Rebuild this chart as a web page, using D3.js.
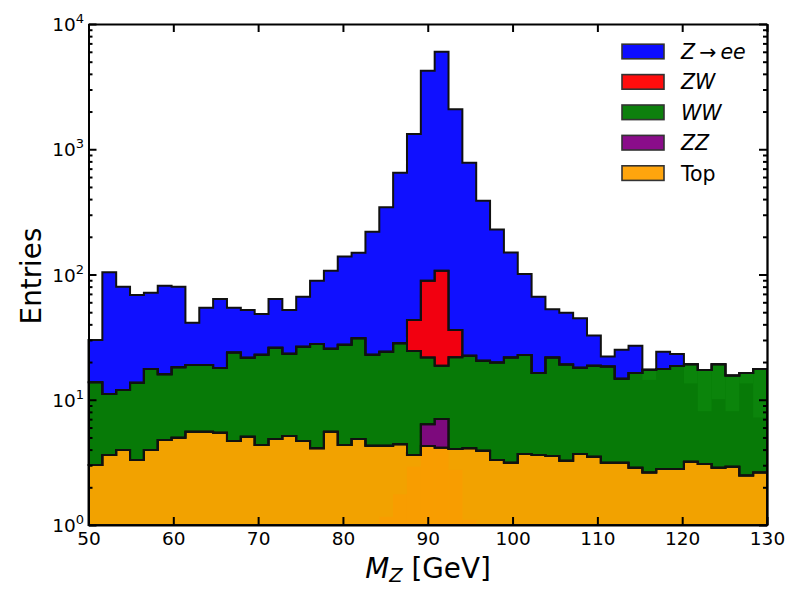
<!DOCTYPE html>
<html><head>
<meta charset="UTF-8">
<script src="https://d3js.org/d3.v7.min.js"></script>
<title>M_Z stack</title>
<style>
body { margin: 0; background: #fff; }
text { font-family: "DejaVu Sans", sans-serif; fill: #000; }
</style>
</head>
<body>
<svg id="vis" width="800" height="600"></svg>
<script>

// 49 bins between 50 and 130 GeV
var xMin = 50, xMax = 130, nBins = 49;

// entries per bin (one array per sample)
var topCounts = [3.01, 3.62, 3.97, 3.30, 3.97, 4.77, 4.98, 5.56, 5.56, 5.46,
                 4.69, 5.07, 4.35, 4.86, 5.13, 4.69, 4.10, 5.56, 4.35, 4.86,
                 4.30, 4.30, 4.41, 3.62, 4.27, 4.14, 4.04, 4.10, 3.92, 3.30,
                 3.14, 3.69, 3.62, 3.55, 3.26, 3.69, 3.51, 3.14, 3.14, 2.87,
                 2.63, 2.80, 2.80, 3.20, 3.07, 2.87, 2.92, 2.48, 2.63];
var zzCounts = [0, 0, 0, 0, 0, 0, 0, 0, 0, 0,
                0, 0, 0, 0, 0, 0, 0, 0, 0, 0,
                0, 0, 0, 0, 2.10, 2.88, 0, 0, 0, 0,
                0, 0, 0, 0, 0, 0, 0, 0, 0, 0,
                0, 0, 0, 0, 0, 0, 0, 0, 0];
var wwCounts = [10.8, 7.5, 8.0, 10.4, 13.6, 11.2, 13.2, 13.4, 13.4, 12.5,
                19.2, 16.6, 18.5, 21.1, 18.2, 21.8, 23.8, 20.0, 23.1, 26.1,
                18.6, 19.9, 23.8, 20.9, 15.4, 11.7, 17.8, 18.4, 16.6, 16.5,
                18.6, 19.1, 12.7, 18.2, 15.9, 14.3, 15.2, 15.3, 11.6, 13.5,
                14.7, 14.8, 15.8, 16.0, 14.2, 16.3, 12.7, 13.9, 15.0];
var zwCounts = [0, 0, 0, 0, 0, 0, 0, 0, 0, 0,
                0, 0, 0, 0, 0, 0, 0, 0, 0, 0,
                0, 0, 0, 18.8, 67.5, 88.3, 14.2, 0, 0, 0,
                0, 0, 0, 0, 0, 0, 0, 0, 0, 0,
                0, 0, 0, 0, 0, 0, 0, 0, 0];
var zeeCounts = [16.2, 92.9, 68, 54.9, 54.0, 65.4, 61.8, 22.2, 35.3, 45.7,
                 30.4, 30.4, 25.6, 37.7, 28.8, 40.0, 61.4, 81.4, 111.6, 118,
                 197, 320, 622, 1281, 4151, 5903, 2049, 758, 367, 209,
                 128, 78, 50.2, 31.0, 30.3, 26.7, 13.8, 3.7, 10.3, 10.6,
                 0, 6.6, 4.6, 0, 0, 0, 0, 0, 0];

// lighter shades seen inside the orange and green areas
var topShadeBins = [21, 22, 23, 24, 25, 26, 27];
var topShadeLevel = [1.16, 1.76, 2.92, 99, 99, 2.75, 1.1];
var wwShadeBins = [40, 43, 44, 45, 46, 47, 48];
var wwShadeLevel = [14.4, 13.5, 8.1, 10.1, 8.1, 13.5, 7.2];

var keys = ["top", "zz", "ww", "zw", "zee"];
var fillColors = {top: "#f2a200", zz: "#7d0a7d", ww: "#077a07", zw: "#f20010", zee: "#1010ff"};
var legendKeys = ["zee", "zw", "ww", "zz", "top"];
var legendColors = {zee: "#0d0dff", zw: "#ff0d0d", ww: "#0d800d", zz: "#8a0d8a", top: "#ffa50d"};

var xTicks = [50, 60, 70, 80, 90, 100, 110, 120, 130];
var yTicks = [1, 10, 100, 1000, 10000];

var svg = d3.select("#vis");
var x = d3.scaleLinear().domain([xMin, xMax]).range([88.5, 767]);
var y = d3.scaleLog().domain([1, 10000]).range([525, 24]);

var binW = (xMax - xMin) / nBins;
var edges = d3.range(nBins + 1).map(function(i){ return xMin + i * binW; });

// table for d3.stack
var rows = [];
for (var i = 0; i < nBins; i++) {
	rows.push({top: topCounts[i], zz: zzCounts[i], ww: wwCounts[i], zw: zwCounts[i], zee: zeeCounts[i]});
}
var layers = d3.stack().keys(keys)(rows);

function yc(v){ return y(Math.max(v, 1)); }

// one point per edge, last bin repeated so the step closes at 130
var area = d3.area()
	.curve(d3.curveStepAfter)
	.x(function(d){ return x(d.e); })
	.y0(function(d){ return yc(d.lo); })
	.y1(function(d){ return yc(d.hi); });

function layerPoints(layer){
	return edges.map(function(e, i){
		var k = Math.min(i, nBins - 1);
		return {e: e, lo: layer[k][0], hi: layer[k][1]};
	});
}

var gFill = svg.append("g");
layers.forEach(function(layer){
	gFill.append("path")
		.attr("d", area(layerPoints(layer)))
		.attr("fill", fillColors[layer.key]);
});

// shades
var gShade = svg.append("g");
topShadeBins.forEach(function(b, j){
	var lvl = Math.min(topShadeLevel[j], layers[0][b][1]);
	gShade.append("rect")
		.attr("x", x(edges[b])).attr("width", x(edges[b + 1]) - x(edges[b]))
		.attr("y", y(lvl)).attr("height", y(1) - y(lvl))
		.attr("fill", "#f89d00");
});
wwShadeBins.forEach(function(b, j){
	var hi = layers[2][b][1];
	gShade.append("rect")
		.attr("x", x(edges[b])).attr("width", x(edges[b + 1]) - x(edges[b]))
		.attr("y", y(hi)).attr("height", y(wwShadeLevel[j]) - y(hi))
		.attr("fill", "#0b840b");
});

var gLine = svg.append("g");
layers.forEach(function(layer){
	gLine.append("path")
		.attr("d", area(layerPoints(layer)))
		.attr("fill", "none")
		.attr("stroke", "#111")
		.attr("stroke-width", 2)
		.attr("stroke-linejoin", "miter");
});

// axes, ticks inside on all four sides
var yMinor = y.ticks().filter(function(t){ return yTicks.indexOf(t) < 0; });

var gx = svg.append("g").attr("transform", "translate(0,525)")
	.call(d3.axisBottom(x).tickValues(xTicks).tickSize(-8).tickSizeOuter(0).tickPadding(7).tickFormat(d3.format("d")));
var gxt = svg.append("g").attr("transform", "translate(0,24)")
	.call(d3.axisTop(x).tickValues(xTicks).tickSize(-8).tickSizeOuter(0).tickFormat(""));
var gy = svg.append("g").attr("transform", "translate(88.5,0)")
	.call(d3.axisLeft(y).tickValues(yTicks).tickSize(-8).tickSizeOuter(0).tickFormat(""));
var gym = svg.append("g").attr("transform", "translate(88.5,0)")
	.call(d3.axisLeft(y).tickValues(yMinor).tickSize(-4).tickSizeOuter(0).tickFormat(""));
var gyr = svg.append("g").attr("transform", "translate(767,0)")
	.call(d3.axisRight(y).tickValues(yTicks).tickSize(-8).tickSizeOuter(0).tickFormat(""));
var gyrm = svg.append("g").attr("transform", "translate(767,0)")
	.call(d3.axisRight(y).tickValues(yMinor).tickSize(-4).tickSizeOuter(0).tickFormat(""));

svg.selectAll(".domain").attr("stroke", "#000").attr("stroke-width", 1.8);
svg.selectAll(".tick line").attr("stroke", "#000").attr("stroke-width", 2);
gx.selectAll(".tick text").attr("font-size", "18.5px").attr("font-family", "DejaVu Sans").attr("fill", "#000");

// y tick labels 10^n
yTicks.forEach(function(t){
	var lbl = svg.append("text")
		.attr("x", 84).attr("y", y(t) + 7)
		.attr("text-anchor", "end")
		.attr("font-size", "18.5px");
	lbl.append("tspan").text("10");
	lbl.append("tspan").attr("font-size", "13px").attr("dy", "-8").text(Math.round(Math.log10(t)));
});

// axis titles
var xl = svg.append("text").attr("x", 428).attr("y", 578).attr("text-anchor", "middle").attr("font-size", "27.8px");
xl.append("tspan").attr("font-style", "italic").text("M");
xl.append("tspan").attr("font-style", "italic").attr("font-size", "19.5px").attr("dy", "4").text("Z");
xl.append("tspan").attr("dy", "-4").text(" [GeV]");

svg.append("text")
	.attr("transform", "translate(41,276) rotate(-90)")
	.attr("text-anchor", "middle")
	.attr("font-size", "27.8px")
	.text("Entries");

// legend
var legendLabels = {
	zee: [["Z", true], ["\u2009\u2192\u2009", false], ["ee", true]],
	zw: [["ZW", true]], ww: [["WW", true]], zz: [["ZZ", true]], top: [["Top", false]]
};
var gLeg = svg.append("g");
legendKeys.forEach(function(k, i){
	var cy = 51.5 + i * 30.4;
	gLeg.append("rect")
		.attr("x", 622).attr("y", cy - 7.3).attr("width", 42).attr("height", 14.6)
		.attr("fill", legendColors[k]).attr("stroke", "#333").attr("stroke-width", 1.6);
	var t = gLeg.append("text").attr("x", 681).attr("y", cy + 7.5).attr("font-size", "20.5px");
	legendLabels[k].forEach(function(p){
		t.append("tspan").attr("font-style", p[1] ? "italic" : "normal").text(p[0]);
	});
});

</script>
</body></html>
